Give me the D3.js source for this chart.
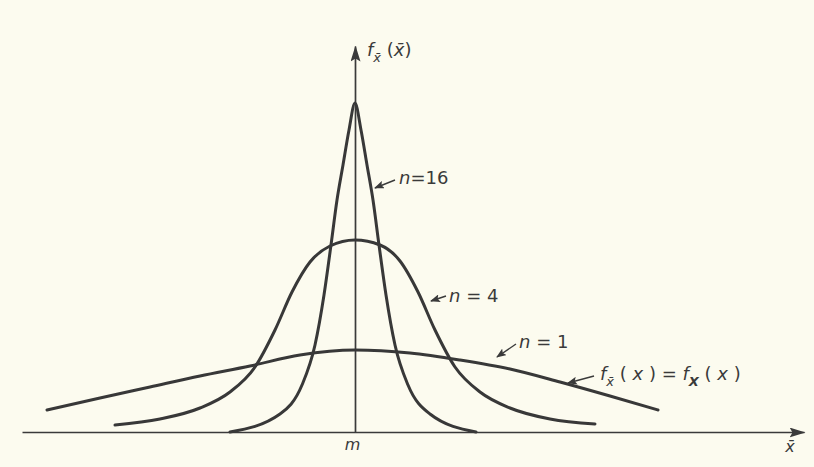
<!DOCTYPE html>
<html>
<head>
<meta charset="utf-8">
<script src="https://cdn.jsdelivr.net/npm/d3@7"></script>
<style>
  html, body { margin: 0; padding: 0; background: #fcfbef; }
  svg { display: block; }
  text { font-family: "DejaVu Sans", sans-serif; fill: #3a3a3a; }
  .var { font-style: italic; }
</style>
</head>
<body>
<svg id="chart" width="814" height="467"></svg>
<script>
// points, x = distance from m, y = density (arbitrary units)
const n16X = [-1.25, -0.75, -0.53, -0.40, -0.31, -0.24, -0.18, -0.12, -0.06, 0, 0.06, 0.12, 0.18, 0.24, 0.31, 0.40, 0.53, 0.75, 1.21];
const n16Y = [0, 0.18, 0.47, 0.87, 1.37, 1.87, 2.32, 2.67, 3.02, 3.29, 3.02, 2.67, 2.32, 1.87, 1.37, 0.87, 0.47, 0.18, 0];

const n4X = [-2.40, -1.95, -1.55, -1.25, -1.00, -0.80, -0.63, -0.45, -0.25, 0, 0.25, 0.45, 0.63, 0.80, 1.00, 1.25, 1.55, 1.95, 2.40];
const n4Y = [0.07, 0.13, 0.24, 0.40, 0.65, 1.02, 1.40, 1.70, 1.86, 1.92, 1.87, 1.71, 1.40, 1.02, 0.65, 0.40, 0.24, 0.13, 0.08];

const n1X = [-3.08, -2.55, -2.05, -1.55, -1.05, -0.55, 0, 0.55, 1.05, 1.55, 2.05, 2.55, 3.03];
const n1Y = [0.22, 0.34, 0.45, 0.56, 0.66, 0.77, 0.82, 0.79, 0.72, 0.63, 0.50, 0.36, 0.22];

const curves = [
  { name: "n16", xs: n16X, ys: n16Y },
  { name: "n4", xs: n4X, ys: n4Y },
  { name: "n1", xs: n1X, ys: n1Y }
];

const svg = d3.select("#chart");
const x = d3.scaleLinear().domain([-3.33, 4.49]).range([22, 804]);
const y = d3.scaleLinear().domain([0, 3.86]).range([432, 46]);

svg.append("rect").attr("width", 814).attr("height", 467).attr("fill", "#fcfbef");

const defs = svg.append("defs");
defs.append("marker")
  .attr("id", "axhead")
  .attr("viewBox", "0 0 16 10")
  .attr("refX", 15).attr("refY", 5)
  .attr("markerWidth", 16).attr("markerHeight", 10)
  .attr("markerUnits", "userSpaceOnUse")
  .attr("orient", "auto")
  .append("path").attr("d", "M0,0L16,5L0,10L3,5Z").attr("fill", "#3a3a3a");
defs.append("marker")
  .attr("id", "smallhead")
  .attr("viewBox", "0 0 10 8")
  .attr("refX", 9).attr("refY", 4)
  .attr("markerWidth", 10).attr("markerHeight", 8)
  .attr("markerUnits", "userSpaceOnUse")
  .attr("orient", "auto")
  .append("path").attr("d", "M0,0L10,4L0,8L2,4Z").attr("fill", "#3a3a3a");

// axes
const xAxis = svg.append("g")
  .attr("transform", `translate(0,${y(0)})`)
  .call(d3.axisBottom(x).tickValues([0]).tickSize(0).tickSizeOuter(0).tickFormat(() => "m"));
xAxis.select(".domain").attr("stroke", "#3a3a3a").attr("stroke-width", 1.7).attr("marker-end", "url(#axhead)");
xAxis.selectAll(".tick text")
  .attr("class", "var")
  .attr("dy", 0).attr("y", 18)
  .attr("dx", -3)
  .style("font-size", "16px")
  .style("font-family", "DejaVu Sans, sans-serif")
  .attr("fill", "#3a3a3a");

const yAxis = svg.append("g")
  .attr("transform", `translate(${x(0)},0)`)
  .call(d3.axisLeft(y).tickValues([]).tickSize(0).tickSizeOuter(0));
yAxis.select(".domain").attr("stroke", "#3a3a3a").attr("stroke-width", 1.7).attr("marker-end", "url(#axhead)");

// curves
const line = d3.line()
  .x(d => x(d[0]))
  .y(d => y(d[1]))
  .curve(d3.curveMonotoneX);

svg.append("g")
  .selectAll("path")
  .data(curves)
  .join("path")
  .attr("d", c => line(c.xs.map((v, i) => [v, c.ys[i]])))
  .attr("fill", "none")
  .attr("stroke", "#383838")
  .attr("stroke-width", 3)
  .attr("stroke-linecap", "round")
  .attr("stroke-linejoin", "round");

// axis titles
const yt = svg.append("text").attr("x", x(0) + 12).attr("y", 56).style("font-size", "18px");
yt.append("tspan").attr("class", "var").text("f");
yt.append("tspan").attr("class", "var").attr("dy", 6).style("font-size", "13px").text("x\u0304");
yt.append("tspan").attr("dy", -6).text(" (");
yt.append("tspan").attr("class", "var").text("x\u0304");
yt.append("tspan").text(")");

svg.append("text").attr("class", "var")
  .attr("x", 790).attr("y", 452)
  .attr("text-anchor", "middle")
  .style("font-size", "16px")
  .text("x\u0304");

// annotations with small arrows
const notes = [
  { tail: [395, 180], tip: [375, 188], at: [399, 184], parts: [["n", true], ["=16", false]] },
  { tail: [446, 296], tip: [431, 301], at: [449, 302], parts: [["n", true], [" = 4", false]] },
  { tail: [516, 344], tip: [497, 357], at: [519, 348], parts: [["n", true], [" = 1", false]] }
];

notes.forEach(n => {
  svg.append("line")
    .attr("x1", n.tail[0]).attr("y1", n.tail[1])
    .attr("x2", n.tip[0]).attr("y2", n.tip[1])
    .attr("stroke", "#3a3a3a").attr("stroke-width", 1.4)
    .attr("marker-end", "url(#smallhead)");
  const t = svg.append("text").attr("x", n.at[0]).attr("y", n.at[1]).style("font-size", "18px");
  n.parts.forEach(p => t.append("tspan").attr("class", p[1] ? "var" : null).text(p[0]));
});

svg.append("line")
  .attr("x1", 594).attr("y1", 376)
  .attr("x2", 568).attr("y2", 383)
  .attr("stroke", "#3a3a3a").attr("stroke-width", 1.4)
  .attr("marker-end", "url(#smallhead)");
const ft = svg.append("text").attr("x", 600).attr("y", 380).style("font-size", "18px");
ft.append("tspan").attr("class", "var").text("f");
ft.append("tspan").attr("class", "var").attr("dy", 6).style("font-size", "13px").text("x\u0304");
ft.append("tspan").attr("dy", -6).text(" ( ");
ft.append("tspan").attr("class", "var").text("x");
ft.append("tspan").text(" )  =  ");
ft.append("tspan").attr("class", "var").text("f");
ft.append("tspan").attr("class", "var").attr("dy", 6).style("font-size", "13px").style("font-weight", "bold").text("X");
ft.append("tspan").attr("dy", -6).text(" ( ");
ft.append("tspan").attr("class", "var").text("x");
ft.append("tspan").text(" )");
</script>
</body>
</html>
